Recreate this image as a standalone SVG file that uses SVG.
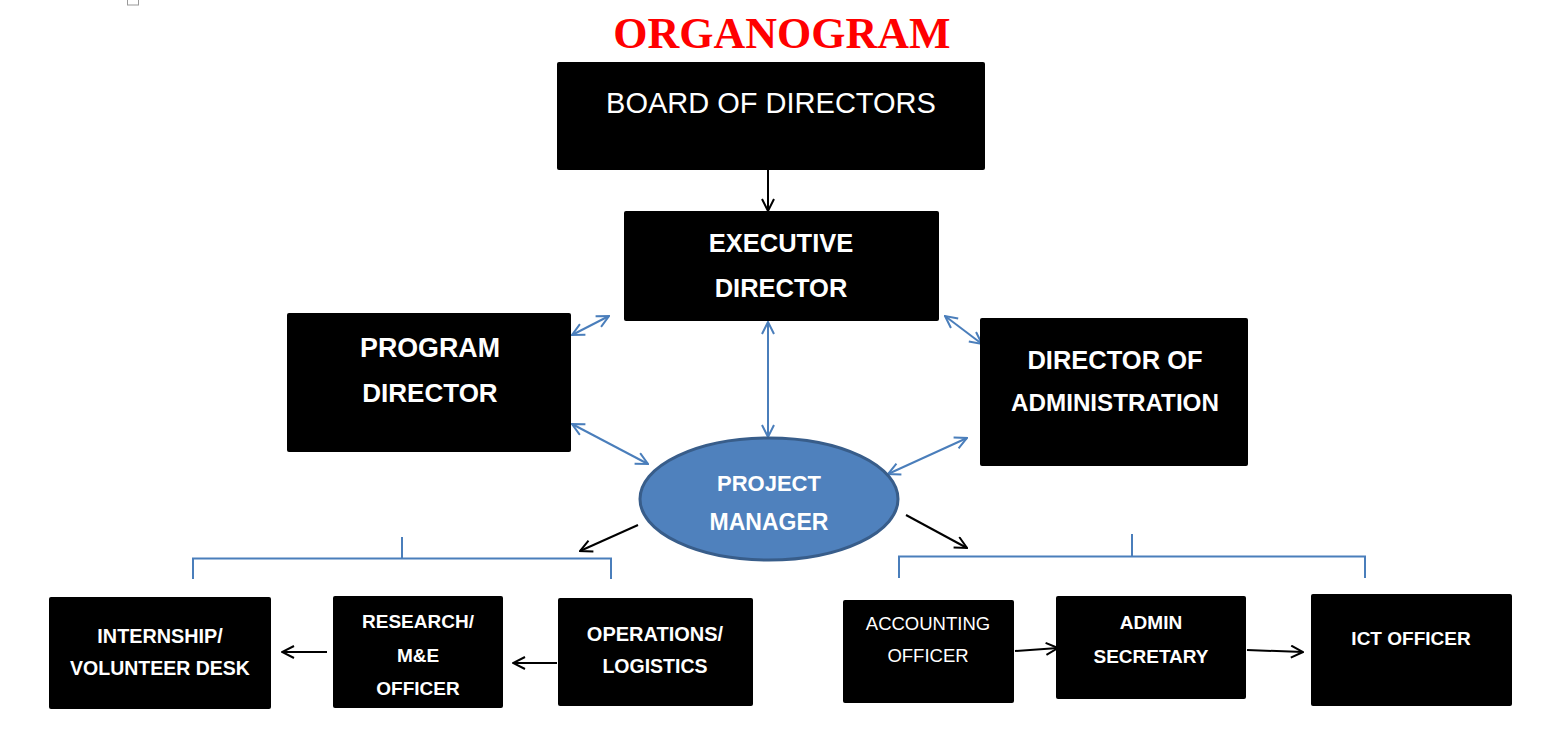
<svg xmlns="http://www.w3.org/2000/svg" width="1554" height="731" viewBox="0 0 1554 731">
<style>
.box{fill:#000;}
.t{fill:#fff;font-family:"Liberation Sans",Arial,sans-serif;text-anchor:middle;}
.b{font-weight:bold;}
.blue{stroke:#4A7EBB;stroke-width:2;fill:none;}
.blk{stroke:#000;stroke-width:2;fill:none;}
</style>
<defs>
<marker id="ab" viewBox="0 0 14 14" markerWidth="14" markerHeight="14" refX="13" refY="7" orient="auto-start-reverse" markerUnits="userSpaceOnUse">
<path d="M1,1 L13,7 L1,13" fill="none" stroke="#000" stroke-width="2"/>
</marker>
<marker id="au" viewBox="0 0 14 14" markerWidth="14" markerHeight="14" refX="13" refY="7" orient="auto-start-reverse" markerUnits="userSpaceOnUse">
<path d="M1,1 L13,7 L1,13" fill="none" stroke="#4A7EBB" stroke-width="2"/>
</marker>
</defs>
<rect width="1554" height="731" fill="#fff"/>
<rect x="127.5" y="-1" width="11" height="6" fill="none" stroke="#999" stroke-width="1"/>
<text x="782" y="48" font-family="Liberation Serif,'Times New Roman',serif" font-weight="bold" font-size="44" fill="#FF0000" text-anchor="middle">ORGANOGRAM</text>

<g id="connectors">
<line class="blk" x1="768" y1="170" x2="768" y2="211" marker-end="url(#ab)"/>
<line class="blue" x1="572" y1="335" x2="609" y2="316" marker-start="url(#au)" marker-end="url(#au)"/>
<line class="blue" x1="572" y1="424" x2="648" y2="464" marker-start="url(#au)" marker-end="url(#au)"/>
<line class="blue" x1="768" y1="322" x2="768" y2="437" marker-start="url(#au)" marker-end="url(#au)"/>
<line class="blue" x1="945" y1="316" x2="982" y2="344" marker-start="url(#au)" marker-end="url(#au)"/>
<line class="blue" x1="888" y1="474" x2="967" y2="438" marker-start="url(#au)" marker-end="url(#au)"/>
<line class="blk" x1="638" y1="525" x2="580" y2="551" marker-end="url(#ab)"/>
<line class="blk" x1="906" y1="515" x2="967" y2="548" marker-end="url(#ab)"/>
<path class="blue" d="M193,579 V558.5 H611 V579 M402,537 V558.5"/>
<path class="blue" d="M899,578 V556.5 H1365 V578 M1132,534 V556.5"/>
<line class="blk" x1="327" y1="652" x2="282" y2="652" marker-end="url(#ab)"/>
<line class="blk" x1="557" y1="663" x2="513" y2="663" marker-end="url(#ab)"/>
<line class="blk" x1="1015" y1="651" x2="1058" y2="648" marker-end="url(#ab)"/>
<line class="blk" x1="1247" y1="650" x2="1303" y2="652" marker-end="url(#ab)"/>
</g>

<g id="board">
<rect class="box" x="557" y="62" width="428" height="108" rx="2"/>
<text class="t" x="771" y="113" font-size="29">BOARD OF DIRECTORS</text>
</g>
<g id="executive">
<rect class="box" x="624" y="211" width="315" height="110" rx="2"/>
<text class="t b" x="781" y="252" font-size="25.5">EXECUTIVE</text>
<text class="t b" x="781" y="297" font-size="25.5">DIRECTOR</text>
</g>
<g id="program">
<rect class="box" x="287" y="313" width="284" height="139" rx="2"/>
<text class="t b" x="430" y="357" font-size="26.8">PROGRAM</text>
<text class="t b" x="430" y="402" font-size="26">DIRECTOR</text>
</g>
<g id="admin-director">
<rect class="box" x="980" y="318" width="268" height="148" rx="2"/>
<text class="t b" x="1115" y="369" font-size="25.5">DIRECTOR OF</text>
<text class="t b" x="1115" y="411" font-size="24.2">ADMINISTRATION</text>
</g>
<g id="project-manager">
<ellipse cx="769" cy="499" rx="129" ry="61" fill="#4F81BD" stroke="#385D8A" stroke-width="3"/>
<text class="t b" x="769" y="491" font-size="22">PROJECT</text>
<text class="t b" x="769" y="530" font-size="23">MANAGER</text>
</g>
<g id="internship">
<rect class="box" x="49" y="597" width="222" height="112" rx="2"/>
<text class="t b" x="160" y="643" font-size="19.8">INTERNSHIP/</text>
<text class="t b" x="160" y="675" font-size="19.5">VOLUNTEER DESK</text>
</g>
<g id="research">
<rect class="box" x="333" y="596" width="170" height="112" rx="2"/>
<text class="t b" x="418" y="628" font-size="19">RESEARCH/</text>
<text class="t b" x="418" y="662" font-size="19">M&amp;E</text>
<text class="t b" x="418" y="695" font-size="19">OFFICER</text>
</g>
<g id="operations">
<rect class="box" x="558" y="598" width="195" height="108" rx="2"/>
<text class="t b" x="655" y="641" font-size="20">OPERATIONS/</text>
<text class="t b" x="655" y="673" font-size="19.5">LOGISTICS</text>
</g>
<g id="accounting">
<rect class="box" x="843" y="600" width="171" height="103" rx="2"/>
<text class="t" x="928" y="630" font-size="18.5">ACCOUNTING</text>
<text class="t" x="928" y="662" font-size="18.5">OFFICER</text>
</g>
<g id="admin-secretary">
<rect class="box" x="1056" y="596" width="190" height="103" rx="2"/>
<text class="t b" x="1151" y="629" font-size="19">ADMIN</text>
<text class="t b" x="1151" y="663" font-size="19">SECRETARY</text>
</g>
<g id="ict">
<rect class="box" x="1311" y="594" width="201" height="112" rx="2"/>
<text class="t b" x="1411" y="645" font-size="19">ICT OFFICER</text>
</g>
</svg>
